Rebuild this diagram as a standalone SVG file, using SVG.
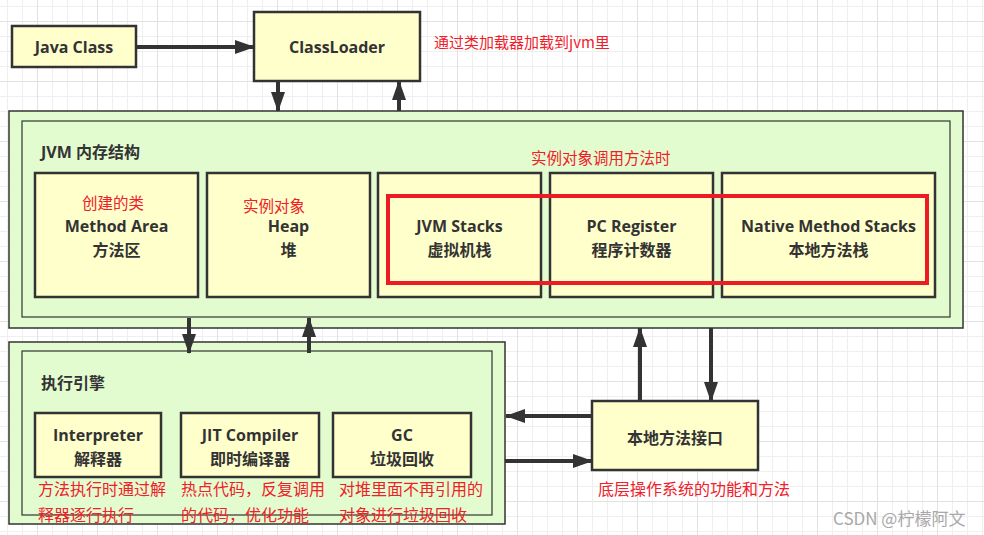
<svg xmlns="http://www.w3.org/2000/svg" width="984" height="535" viewBox="0 0 984 535">
<style>
.box{fill:#ffffcc;stroke:#333;stroke-width:2.5}
.outer{fill:#e3fccf;stroke:#333;stroke-width:1.5}
.inner{fill:none;stroke:#333;stroke-width:1.2}
.lbl{font-family:"Open Sans","Noto Sans CJK SC",sans-serif;font-weight:bold;font-size:16px;fill:#333;text-anchor:middle;dominant-baseline:central}
.cn{font-family:"Noto Sans CJK SC",sans-serif;font-weight:bold;font-size:16px;fill:#333;text-anchor:middle;dominant-baseline:central}
.title{font-family:"Open Sans","Noto Sans CJK SC",sans-serif;font-weight:bold;font-size:16px;fill:#333;dominant-baseline:central}
.red{font-family:"Noto Sans CJK SC",sans-serif;font-size:15.5px;fill:#f0202a;dominant-baseline:central}
.conn{stroke:#333;stroke-width:4;fill:none}
</style>
<defs>
<pattern id="grid" patternUnits="userSpaceOnUse" x="37" y="21" width="60" height="60">
<path d="M15.5 0V60M30.5 0V60M45.5 0V60M0 15.5H60M0 30.5H60M0 45.5H60" stroke="#efefef" stroke-width="1"/>
<path d="M0.5 0V60M0 0.5H60" stroke="#e2e2e2" stroke-width="1"/>
</pattern>
<marker id="ah" viewBox="0 0 20 14" refX="19" refY="7" markerWidth="20" markerHeight="14" markerUnits="userSpaceOnUse" orient="auto">
<path d="M0 0L20 7L0 14z" fill="#333"/>
</marker>
</defs>
<rect width="984" height="535" fill="#fff"/>
<rect width="984" height="535" fill="url(#grid)"/>

<g id="jvm">
<rect class="outer" x="9" y="111" width="954" height="217"/>
<rect class="inner" x="22" y="121" width="928" height="196"/>
<text class="title" x="41" y="152">JVM 内存结构</text>
<text class="red" x="531" y="157">实例对象调用方法时</text>
</g>
<g id="exec">
<rect class="outer" x="9" y="342" width="496" height="182"/>
<rect class="inner" x="22" y="351" width="470" height="164"/>
<text class="title" x="41" y="383">执行引擎</text>
</g>

<g id="javaclass">
<rect class="box" x="12" y="26" width="124" height="41"/>
<text class="lbl" x="74" y="47">Java Class</text>
</g>
<g id="classloader">
<rect class="box" x="254" y="12" width="166" height="69"/>
<text class="lbl" x="337" y="47">ClassLoader</text>
</g>
<text class="red" x="434" y="41" style="font-size:15px">通过类加载器加载到jvm里</text>

<g id="methodarea">
<rect class="box" x="35" y="173" width="163" height="124"/>
<text class="red" x="82" y="202">创建的类</text>
<text class="lbl" x="116.5" y="226">Method Area</text>
<text class="cn" x="116.5" y="249">方法区</text>
</g>
<g id="heap">
<rect class="box" x="207" y="173" width="163" height="124"/>
<text class="red" x="243" y="205">实例对象</text>
<text class="lbl" x="288.5" y="226">Heap</text>
<text class="cn" x="288.5" y="249">堆</text>
</g>
<g id="jvmstacks">
<rect class="box" x="378" y="173" width="163" height="124"/>
<text class="lbl" x="459.5" y="226">JVM Stacks</text>
<text class="cn" x="459.5" y="249">虚拟机栈</text>
</g>
<g id="pcregister">
<rect class="box" x="550" y="173" width="163" height="124"/>
<text class="lbl" x="631.5" y="226">PC Register</text>
<text class="cn" x="631.5" y="249">程序计数器</text>
</g>
<g id="nativestacks">
<rect class="box" x="722" y="173" width="213" height="124"/>
<text class="lbl" x="828.5" y="226">Native Method Stacks</text>
<text class="cn" x="828.5" y="249">本地方法栈</text>
</g>
<rect id="highlight" x="388" y="196" width="539" height="87" fill="none" stroke="#ed1c24" stroke-width="4"/>

<g id="interpreter">
<rect class="box" x="35" y="413" width="126" height="64"/>
<text class="lbl" x="98" y="435">Interpreter</text>
<text class="cn" x="98" y="458">解释器</text>
</g>
<g id="jit">
<rect class="box" x="181" y="413" width="138" height="64"/>
<text class="lbl" x="250" y="435">JIT Compiler</text>
<text class="cn" x="250" y="458">即时编译器</text>
</g>
<g id="gc">
<rect class="box" x="333" y="413" width="138" height="64"/>
<text class="lbl" x="402" y="435">GC</text>
<text class="cn" x="402" y="458">垃圾回收</text>
</g>
<text class="red" x="38" y="488" style="font-size:16px">方法执行时通过解</text>
<text class="red" x="38" y="514" style="font-size:16px">释器逐行执行</text>
<text class="red" x="181" y="488" style="font-size:16px">热点代码，反复调用</text>
<text class="red" x="181" y="514" style="font-size:16px">的代码，优化功能</text>
<text class="red" x="339" y="488" style="font-size:16px">对堆里面不再引用的</text>
<text class="red" x="339" y="514" style="font-size:16px">对象进行垃圾回收</text>

<g id="nativeinterface">
<rect class="box" x="592" y="401" width="166" height="69"/>
<text class="cn" x="675" y="437">本地方法接口</text>
</g>
<text class="red" x="598" y="488" style="font-size:16px">底层操作系统的功能和方法</text>

<g id="connectors">
<line class="conn" x1="136" y1="47" x2="254" y2="47" marker-end="url(#ah)"/>
<line class="conn" x1="278" y1="81" x2="278" y2="111" marker-end="url(#ah)"/>
<line class="conn" x1="399" y1="111" x2="399" y2="81" marker-end="url(#ah)"/>
<line class="conn" x1="189" y1="318" x2="189" y2="353" marker-end="url(#ah)"/>
<line class="conn" x1="309" y1="353" x2="309" y2="318" marker-end="url(#ah)"/>
<line class="conn" x1="640" y1="401" x2="640" y2="328" marker-end="url(#ah)"/>
<line class="conn" x1="711" y1="328" x2="711" y2="401" marker-end="url(#ah)"/>
<line class="conn" x1="592" y1="416" x2="506" y2="416" marker-end="url(#ah)"/>
<line class="conn" x1="505" y1="461" x2="592" y2="461" marker-end="url(#ah)"/>
</g>
<text x="833" y="517" style="font-family:'Noto Sans CJK SC',sans-serif;font-size:17px;fill:#a8a8a8;dominant-baseline:central">CSDN @柠檬阿文</text>
</svg>
